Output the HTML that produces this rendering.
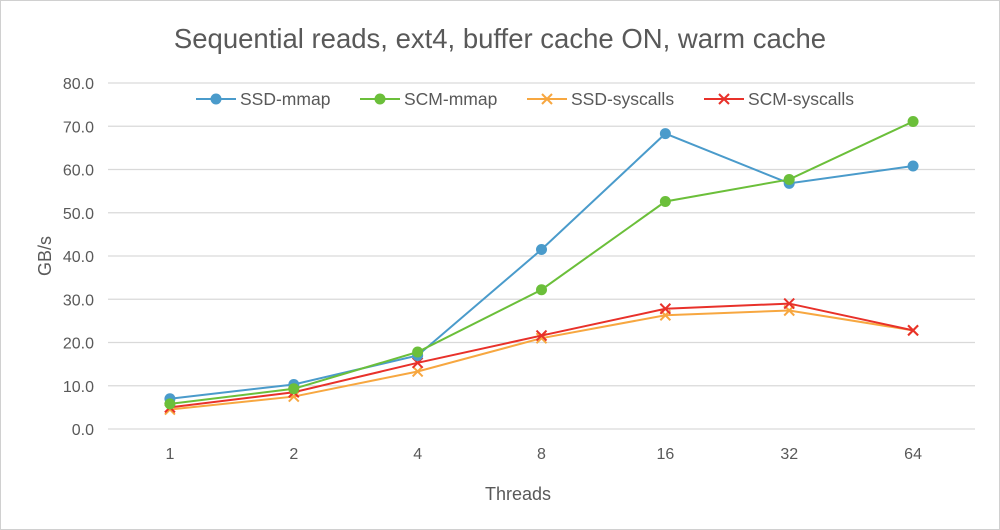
<!DOCTYPE html>
<html><head><meta charset="utf-8"><style>
html,body{margin:0;padding:0;background:#fff}
svg{display:block;font-family:"Liberation Sans",sans-serif}
</style></head><body>
<svg id="chart" width="1000" height="530">
<rect x="0.5" y="0.5" width="999" height="529" fill="#fff" stroke="#d0d0d0"/>
<text x="500" y="48" text-anchor="middle" font-size="27.5" fill="#595959">Sequential reads, ext4, buffer cache ON, warm cache</text>
<g id="grid"></g><g id="yticks"></g><g id="xticks"></g><g id="series"></g><g id="legend"></g>
<text x="518" y="500" text-anchor="middle" font-size="18" fill="#595959">Threads</text>
<text transform="translate(51,256) rotate(-90)" text-anchor="middle" font-size="18" fill="#595959">GB/s</text>
</svg>
<script>
const categories=["1","2","4","8","16","32","64"];
const yTicks=[0,10,20,30,40,50,60,70,80];
const seriesNames=["SSD-mmap","SCM-mmap","SSD-syscalls","SCM-syscalls"];
const ssdMmap=[7.0,10.3,17.0,41.5,68.3,56.8,60.8];
const scmMmap=[5.8,9.3,17.8,32.2,52.6,57.7,71.1];
const ssdSyscalls=[4.5,7.5,13.3,21.0,26.3,27.4,22.8];
const scmSyscalls=[5.0,8.5,15.3,21.6,27.8,29.0,22.8];
const NS="http://www.w3.org/2000/svg";
const L=108,R=975,T=83,B=429;
const x=i=>L+(R-L)/categories.length*(i+0.5);
const y=v=>B-(v/80)*(B-T);
function mk(tag,attrs,parent){const e=document.createElementNS(NS,tag);for(const k in attrs)e.setAttribute(k,attrs[k]);parent.appendChild(e);return e;}
const g=document.getElementById('grid'),yt=document.getElementById('yticks'),xt=document.getElementById('xticks'),sg=document.getElementById('series'),lg=document.getElementById('legend');
yTicks.forEach(v=>{
 const l=mk('line',{x1:L,x2:R,y1:y(v),y2:y(v),stroke:'#d9d9d9','stroke-width':1.3},g);
 
 
 const t=mk('text',{x:94,y:y(v)+6,'text-anchor':'end','font-size':16,fill:'#595959'},yt);
 t.textContent=v.toFixed(1);
 
 
});
categories.forEach((c,i)=>{
 const t=mk('text',{x:x(i),y:459,'text-anchor':'middle','font-size':16,fill:'#595959'},xt);
 t.textContent=c;
 
 
});
const data=[ssdMmap,scmMmap,ssdSyscalls,scmSyscalls];
const colors=["#4a9bcb","#6bbf3a","#f7a740","#e8312a"];
const markers=["circle","circle","x","x"];
function marker(type,cx,cy,col,parent){
 if(type==="circle"){const c=mk('circle',{cx:cx,cy:cy,r:5.5,fill:col},parent);return c;}
 const gg=mk('g',{stroke:col,'stroke-width':2},parent);
 mk('line',{x1:cx-5,y1:cy-5,x2:cx+5,y2:cy+5},gg);mk('line',{x1:cx-5,y1:cy+5,x2:cx+5,y2:cy-5},gg);return gg;
}
[2,3,0,1].forEach(s=>{
 const grp=mk('g',{},sg);
 
 
 const pl=mk('polyline',{points:data[s].map((v,i)=>x(i)+','+y(v)).join(' '),fill:'none',stroke:colors[s],'stroke-width':2},grp);
 
 
 data[s].forEach((v,i)=>{
  const m=marker(markers[s],x(i),y(v),colors[s],grp);
  
  
 });
});
const lx=[196,360,527,704];
seriesNames.forEach((n,s)=>{
 const gg=mk('g',{},lg);
 
 
 mk('line',{x1:lx[s],x2:lx[s]+40,y1:99,y2:99,stroke:colors[s],'stroke-width':2},gg);
 marker(markers[s],lx[s]+20,99,colors[s],gg);
 const t=mk('text',{x:lx[s]+44,y:105,'font-size':17.5,fill:'#595959'},gg);
 t.textContent=n;
});
</script>
</body></html>
